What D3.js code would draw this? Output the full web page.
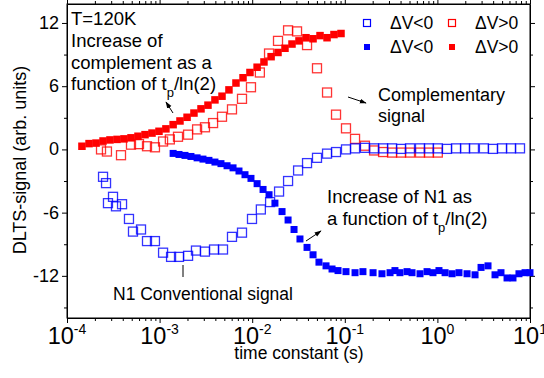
<!DOCTYPE html>
<html>
<head>
<meta charset="utf-8">
<script src="https://cdn.jsdelivr.net/npm/d3@7"></script>
<style>
  body { margin: 0; background: #fff; }
  svg { display: block; font-family: Arial, "Liberation Sans", sans-serif; }
</style>
</head>
<body>
<div id="chart"></div>
<script>
// time constants (s) and DLTS signal (arb. units)
var redFilledTau = [1.45e-4,1.73e-4,2.06e-4,2.45e-4,2.91e-4,3.47e-4,4.13e-4,4.91e-4,5.84e-4,6.96e-4,
  8.28e-4,9.85e-4,1.17e-3,1.40e-3,1.66e-3,1.98e-3,2.35e-3,2.80e-3,3.33e-3,3.96e-3,
  4.72e-3,5.61e-3,6.68e-3,7.96e-3,9.46e-3,1.13e-2,1.34e-2,1.60e-2,1.90e-2,2.26e-2,
  2.69e-2,3.20e-2,3.81e-2,4.54e-2,5.40e-2,6.43e-2,7.64e-2,9.10e-2];
var redFilledSignal = [0.3,0.55,0.6,0.8,0.9,0.95,1.0,1.1,1.25,1.4,
  1.55,1.72,1.95,2.35,2.7,3.05,3.45,3.85,4.2,4.7,
  5.05,5.65,6.3,6.8,7.3,7.8,8.3,8.8,9.2,9.6,
  10.0,10.3,10.6,10.5,10.8,10.6,10.9,11.0];

var redOpenTau = [2.33e-4,2.70e-4,3.83e-4,4.91e-4,5.99e-4,7.31e-4,8.91e-4,1.09e-3,1.29e-3,1.58e-3,
  2.03e-3,2.54e-3,3.09e-3,3.78e-3,4.72e-3,6.05e-3,7.76e-3,9.70e-3,1.21e-2,1.52e-2,
  1.90e-2,2.44e-2,3.05e-2,3.91e-2,5.01e-2,6.43e-2,8.04e-2,0.103,0.129,0.165,
  0.207,0.259,0.324,0.405,0.506,0.649,0.811,1.01];
var redOpenSignal = [0.0,-0.2,-0.55,0.45,0.5,0.3,0.2,0.75,0.95,1.2,
  1.4,1.9,2.1,2.5,3.1,3.8,4.8,5.9,7.3,9.1,
  10.3,11.3,11.2,9.9,7.7,5.4,3.3,2.0,1.0,0.35,
  -0.1,-0.25,-0.3,-0.3,-0.3,-0.3,-0.3,-0.3];

var blueOpenTau = [2.45e-4,2.64e-4,3.14e-4,2.77e-4,3.38e-4,3.93e-4,4.67e-4,5.16e-4,6.30e-4,7.31e-4,
  8.91e-4,1.09e-3,1.33e-3,1.62e-3,2.03e-3,2.47e-3,3.09e-3,3.87e-3,4.84e-3,6.05e-3,
  7.76e-3,9.95e-3,1.24e-2,1.56e-2,1.95e-2,2.44e-2,3.13e-2,3.91e-2,5.01e-2,6.43e-2,
  8.04e-2,0.103,0.129,0.165,0.207,0.259,0.324,0.405,0.506,0.649,
  0.811,1.01,1.27,1.59,1.99,2.48,3.18,3.98,4.99,6.24,7.80];
var blueOpenSignal = [-2.6,-3.2,-4.5,-5.1,-5.4,-5.2,-6.6,-7.8,-7.6,-8.7,
  -8.7,-9.8,-10.2,-10.2,-10.1,-9.6,-9.7,-9.5,-9.5,-8.3,
  -7.9,-6.6,-5.7,-5.0,-4.0,-3.0,-2.0,-1.3,-0.8,-0.4,
  -0.25,0.0,0.1,0.15,0.1,0.1,0.1,0.05,0.1,0.1,
  0.1,0.1,0.05,0.1,0.1,0.1,0.1,0.05,0.1,0.1,0.1];

var blueFilledTau = [1.40e-3,1.62e-3,1.88e-3,2.18e-3,2.54e-3,2.94e-3,3.41e-3,3.96e-3,4.60e-3,5.35e-3,
  6.21e-3,7.20e-3,8.36e-3,9.70e-3,1.13e-2,1.31e-2,1.52e-2,1.76e-2,2.10e-2,2.44e-2,
  2.83e-2,3.28e-2,3.91e-2,4.54e-2,5.26e-2,6.27e-2,7.28e-2,8.45e-2,0.103,0.129,
  0.157,0.202,0.252,0.308,0.348,0.394,0.470,0.532,0.649,0.773,
  0.896,1.04,1.21,1.44,1.71,2.09,2.55,2.96,3.52,4.19,
  4.86,5.65,6.55,7.60,8.84,10.0];
var blueFilledSignal = [-0.38,-0.48,-0.57,-0.67,-0.8,-0.92,-1.04,-1.2,-1.35,-1.55,
  -1.75,-2.05,-2.4,-2.75,-3.25,-3.8,-4.3,-5.1,-5.9,-6.7,
  -7.6,-8.5,-9.3,-10.0,-10.7,-11.05,-11.35,-11.5,-11.6,-11.7,
  -11.6,-11.7,-11.8,-11.7,-11.5,-11.7,-11.6,-11.7,-11.8,-11.6,
  -11.7,-11.5,-11.7,-11.8,-11.7,-11.8,-11.9,-11.2,-11.05,-11.9,
  -11.7,-12.2,-12.2,-11.8,-11.7,-11.7];

var xDecades = [1e-4, 1e-3, 1e-2, 1e-1, 1, 10];
var xExponents = ["-4", "-3", "-2", "-1", "0", "1"];
var yMajor = [-12, -6, 0, 6, 12];
var yMinor = [-15, -9, -3, 3, 9];

var legendLabels = ["\u0394V<0", "\u0394V>0"];

var width = 544, height = 378;
var plotL = 67, plotR = 530, plotT = 4, plotB = 318;

var svg = d3.select("#chart").append("svg")
  .attr("width", width)
  .attr("height", height);

var x = d3.scaleLog().domain([1e-4, 10]).range([plotL, plotR]);
var y = d3.scaleLinear().domain([-16, 13.8]).range([plotB, plotT]);

// minor ticks 2..9 in each decade
var xMinor = [];
xDecades.slice(0, -1).forEach(function(d) {
  for (var k = 2; k <= 9; k++) xMinor.push(d * k);
});

function drawAxis(makeAxis, transform, major, minor) {
  var g = svg.append("g").attr("transform", transform);
  g.call(makeAxis().tickValues(major).tickSize(5).tickSizeOuter(0).tickFormat(""));
  var g2 = svg.append("g").attr("transform", transform);
  g2.call(makeAxis().tickValues(minor).tickSize(3).tickSizeOuter(0).tickFormat(""));
  g2.select(".domain").remove();
  g.selectAll("path, line").attr("stroke", "#000");
  g2.selectAll("line").attr("stroke", "#000");
}
drawAxis(() => d3.axisBottom(x), "translate(0," + plotB + ")", xDecades, xMinor);
drawAxis(() => d3.axisTop(x), "translate(0," + plotT + ")", xDecades, xMinor);
drawAxis(() => d3.axisLeft(y), "translate(" + plotL + ",0)", yMajor, yMinor);
drawAxis(() => d3.axisRight(y), "translate(" + plotR + ",0)", yMajor, yMinor);

svg.append("rect")
  .attr("x", plotL).attr("y", plotT)
  .attr("width", plotR - plotL).attr("height", plotB - plotT)
  .attr("fill", "none").attr("stroke", "#000").attr("stroke-width", 1);

// y tick labels
svg.append("g").selectAll("text")
  .data(yMajor).enter().append("text")
  .attr("x", 59)
  .attr("y", d => y(d) + 6)
  .attr("text-anchor", "end")
  .attr("font-size", 18)
  .text(d => d);

// x tick labels 10^n
var xl = svg.append("g").selectAll("text")
  .data(xDecades).enter().append("text")
  .attr("x", d => x(d))
  .attr("y", 344)
  .attr("text-anchor", "middle")
  .attr("font-size", 23.5);
xl.append("tspan").text("10");
xl.append("tspan")
  .attr("dy", -10)
  .attr("font-size", 14)
  .text((d, i) => xExponents[i]);

svg.append("text")
  .attr("x", 299).attr("y", 359)
  .attr("text-anchor", "middle")
  .attr("font-size", 17.5)
  .text("time constant (s)");

svg.append("text")
  .attr("transform", "translate(26,160) rotate(-90)")
  .attr("text-anchor", "middle")
  .attr("font-size", 18)
  .text("DLTS-signal (arb. units)");

// data marks
function squares(tau, sig, size, color, filled) {
  var pts = tau.map((t, i) => [t, sig[i]]);
  svg.append("g").selectAll("rect")
    .data(pts).enter().append("rect")
    .attr("x", d => x(d[0]) - size / 2)
    .attr("y", d => y(d[1]) - size / 2)
    .attr("width", size).attr("height", size)
    .attr("fill", filled ? color : "none")
    .attr("stroke", filled ? "none" : color)
    .attr("stroke-width", 1.3)
    .attr("stroke-opacity", 0.8);
}
squares(redOpenTau, redOpenSignal, 9, "#ff0000", false);
squares(blueOpenTau, blueOpenSignal, 9, "#0000ff", false);
squares(redFilledTau, redFilledSignal, 7.5, "#ff0000", true);
squares(blueFilledTau, blueFilledSignal, 7, "#0000ff", true);

// legend
var legendRows = [
  { y: 23, color: "#0000ff", filled: false, lab: 0 },
  { y: 23, color: "#ff0000", filled: false, lab: 1 },
  { y: 47, color: "#0000ff", filled: true, lab: 0 },
  { y: 47, color: "#ff0000", filled: true, lab: 1 }
];
legendRows.forEach(function(r) {
  var mx = r.lab === 0 ? 367 : 452;
  var s = r.filled ? 6 : 7;
  svg.append("rect")
    .attr("x", mx - s / 2).attr("y", r.y - s / 2)
    .attr("width", s).attr("height", s)
    .attr("fill", r.filled ? r.color : "none")
    .attr("stroke", r.filled ? "none" : r.color)
    .attr("stroke-width", 1.2);
  svg.append("text")
    .attr("x", mx + 23).attr("y", r.y + 6)
    .attr("font-size", 17.5)
    .text(legendLabels[r.lab]);
});

// annotations
svg.append("defs").append("marker")
  .attr("id", "head")
  .attr("viewBox", "0 0 10 10")
  .attr("refX", 9).attr("refY", 5)
  .attr("markerWidth", 7).attr("markerHeight", 7)
  .attr("orient", "auto")
  .append("path").attr("d", "M0,1.5L10,5L0,8.5Z").attr("fill", "#000");

function arrow(x1, y1, x2, y2) {
  svg.append("line")
    .attr("x1", x1).attr("y1", y1).attr("x2", x2).attr("y2", y2)
    .attr("stroke", "#000").attr("stroke-width", 1)
    .attr("marker-end", "url(#head)");
}

function note(lines, x0, y0, lh, size) {
  var t = svg.append("text").attr("font-size", size || 18);
  lines.forEach(function(l, i) {
    var ln = t.append("tspan").attr("x", x0).attr("y", y0 + i * lh);
    if (Array.isArray(l)) {
      ln.text(l[0]);
      ln.append("tspan").attr("dy", 7).attr("font-size", 13).text("p");
      ln.append("tspan").attr("dy", -7).text(l[1]);
    } else {
      ln.text(l);
    }
  });
}

note(["T=120K", "Increase of", "complement as a", ["function of t", "/ln(2)"]], 71, 25, 21.8, 18.5);
arrow(173, 113, 166, 102);

note(["Complementary", "signal"], 378, 101, 21);
arrow(348, 97, 366, 103);

note(["Increase of N1 as", ["a function of t", "/ln(2)"]], 327, 203, 22, 18.5);
arrow(306, 241, 321, 231);

svg.append("line")
  .attr("x1", 183).attr("y1", 265).attr("x2", 183).attr("y2", 277)
  .attr("stroke", "#000");
note(["N1 Conventional signal"], 113, 300, 20, 17.5);
</script>
</body>
</html>
